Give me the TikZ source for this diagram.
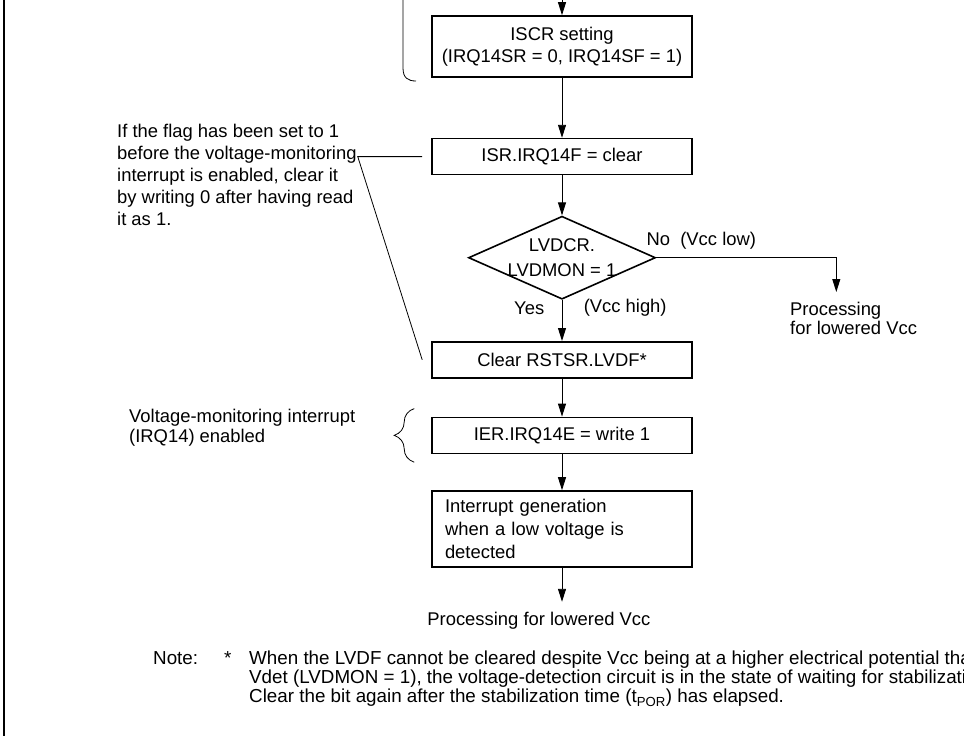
\documentclass[tikz,border=0pt]{standalone}
\usepackage{fontspec}
\setmainfont{Liberation Sans}
\usetikzlibrary{arrows.meta, positioning, calc, shapes.geometric, decorations.pathreplacing}

\begin{document}
\begin{tikzpicture}[x=1pt,y=1pt,>={Triangle[length=13pt,width=8pt]},
			font=\fontsize{18.4}{22}\selectfont,
			box/.style={draw,line width=1.6pt,minimum width=260pt,minimum height=36pt,inner sep=2pt},
			test node/.style={diamond,draw,line width=1.6pt,minimum width=187pt,minimum height=83pt,inner sep=0pt},
			link/.style={->,line width=0.9pt},
			remark/.style={align=left,inner sep=0pt}]
			
			\useasboundingbox (0,0) rectangle (964,-736);
			\draw[line width=2.6pt] (4,0) -- (4,-736);
			
			% main flow
			\coordinate (entry) at (562,0);
			\node[box,minimum height=61pt,align=center] (iscr) at (562,-46.5) {ISCR setting\\(IRQ14SR = 0, IRQ14SF = 1)};
			\node[box] (isr) [below=60pt of iscr] {ISR.IRQ14F = clear};
			\node[test node,label={[align=center,font=\fontsize{18.4}{25}\selectfont]center:LVDCR.\\LVDMON = 1}] (lvd) [below=40pt of isr] {};
			\node[box] (clr) [below=41pt of lvd] {Clear RSTSR.LVDF*};
			\node[box] (ier) [below=38pt of clr] {IER.IRQ14E = write 1};
			\node[box,align=left,text width=234pt,inner xsep=13pt,minimum height=76pt,font=\fontsize{18.4}{23}\selectfont] (intr) [below=36pt of ier] {Interrupt generation\\when a low voltage is\\detected};
			\node[remark] (out) [below=44pt of intr.south west,anchor=north west,xshift=-4pt] {Processing for lowered Vcc};
			
			\path[link]
			(entry) edge (iscr)
			(iscr) edge (isr)
			(isr) edge (lvd)
			(lvd) edge node[pos=0.2,left=14pt] {Yes} node[pos=0.2,right=18pt] {(Vcc high)} (clr)
			(clr) edge (ier)
			(ier) edge (intr);
			\draw[link] (intr) -- ([yshift=10pt]intr.south |- out.north);
			
			% branch for low Vcc
			\coordinate (nob) at ([xshift=180pt]lvd.east);
			\node[remark,font=\fontsize{18.4}{19}\selectfont] (lowr) [anchor=north west] at (790,-302) {Processing\\for lowered Vcc};
			\draw[link] (lvd.east) -- node[pos=0.25,above=5pt] {No~ (Vcc low)} (nob) -- ([yshift=10pt]nob |- lowr.north);
			
			% annotations
			\node[remark] (flag) [anchor=north west] at (117,-124) {If the flag has been set to 1\\before the voltage-monitoring\\interrupt is enabled, clear it\\by writing 0 after having read\\it as 1.};
			\coordinate (fj) at ([xshift=1pt]flag.north east |- isr.west);
			\draw[line width=0.8pt] ([xshift=-9pt]isr.west) -- (fj) -- ([xshift=-9pt]clr.west);
			\draw[line width=0.8pt] (403,0) -- (403,-68) .. controls (403,-78) and (408,-81) .. (416,-81);
			
			\node[remark,font=\fontsize{18.4}{20}\selectfont] (vmon) [anchor=north west] at (129,-409) {Voltage-monitoring interrupt\\(IRQ14) enabled};
			\draw[line width=0.8pt,decorate,decoration={brace,amplitude=20pt}] ([xshift=-17pt,yshift=-8pt]ier.south west) -- ([xshift=-17pt,yshift=8pt]ier.north west);
			
			% footnote
			\node[remark,font=\fontsize{18.8}{19}\selectfont] (notehd) [anchor=north west] at (153,-651) {Note:};
			\node[remark,font=\fontsize{18.8}{19}\selectfont] (ast) [anchor=base west] at (224,0 |- notehd.base) {*};
			\node[remark,font=\fontsize{18.8}{19}\selectfont] (notetxt) [anchor=north west] at (249,-651) {When the LVDF cannot be cleared despite Vcc being at a higher electrical potential than\\Vdet (LVDMON = 1), the voltage-detection circuit is in the state of waiting for stabilization.\\Clear the bit again after the stabilization time (t\textsubscript{POR}) has elapsed.};
		\end{tikzpicture}
\end{document}
